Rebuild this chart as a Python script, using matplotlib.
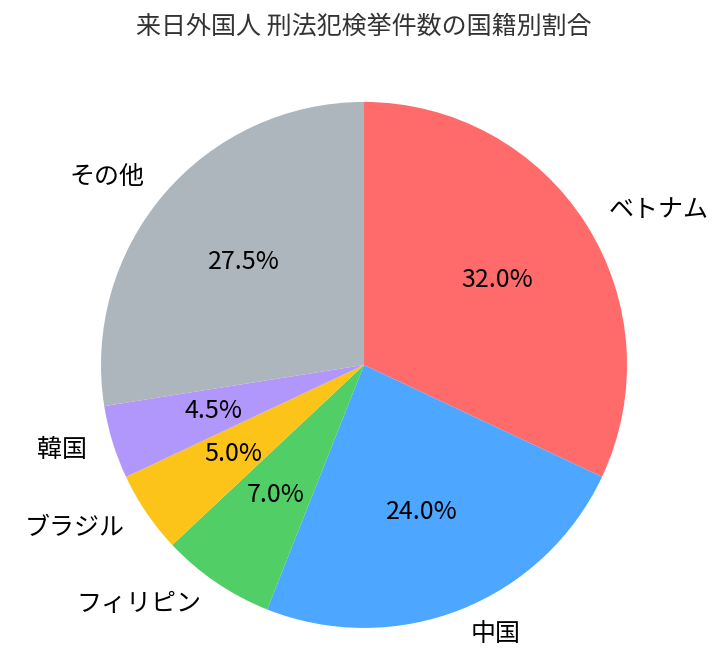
import matplotlib
matplotlib.use("Agg")
import matplotlib.pyplot as plt

plt.rcParams['font.family'] = ['Noto Sans CJK JP', 'DejaVu Sans']

countries = ["ベトナム", "中国", "フィリピン", "ブラジル", "韓国", "その他"]
shares = [32.0, 24.0, 7.0, 5.0, 4.5, 27.5]
colors = ["#ff6b6b", "#4da6ff", "#51cf66", "#fcc419", "#b197fc", "#adb5bd"]

fig = plt.figure(figsize=(7.27, 6.69), dpi=100)
# pie fills a square axes; centre around (364, 365) px from the top-left
ax = fig.add_axes([0.0485, -0.037, 0.9044, 0.983])
ax.pie(shares, labels=countries, colors=colors, autopct="%1.1f%%",
       startangle=90, counterclock=False,
       textprops={"fontsize": 18})
ax.set_aspect("equal")
fig.suptitle("来日外国人 刑法犯検挙件数の国籍別割合", fontsize=18, color="#333333",
             y=1 - 27 / 669, va="center")
fig.savefig("out.png", dpi=100)
